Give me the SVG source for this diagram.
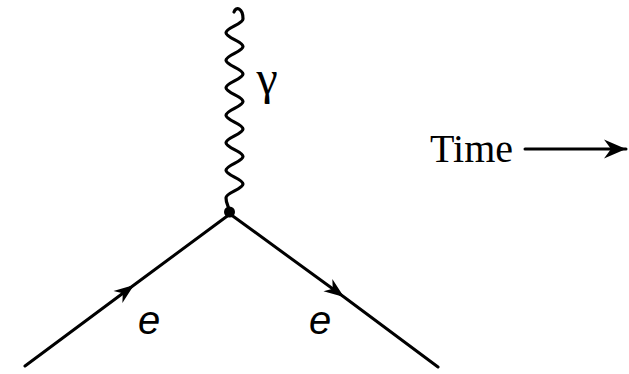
<svg xmlns="http://www.w3.org/2000/svg" width="629" height="374" viewBox="0 0 629 374">
  <style>
    .line { fill: none; stroke: #000; stroke-width: 3; stroke-linecap: round; }
    .wave { fill: none; stroke: #000; stroke-width: 3.2; stroke-linecap: round; }
    .lbl { font-family: "Liberation Sans", Arial, sans-serif; font-style: italic; font-size: 40px; fill: #000; }
    .serif { font-family: "Liberation Serif", "Times New Roman", serif; fill: #000; }
  </style>
  <defs>
    <marker id="arr" markerUnits="userSpaceOnUse" markerWidth="26" markerHeight="20" viewBox="-22 -10 24 20" refX="0" refY="0" orient="auto">
      <path d="M0,0 L-20,-7.5 L-14,0 L-20,7.5 Z" fill="#000"/>
    </marker>
    <marker id="arrT" markerUnits="userSpaceOnUse" markerWidth="28" markerHeight="24" viewBox="-24 -12 26 24" refX="0" refY="0" orient="auto">
      <path d="M0,0 L-22,-9.5 L-15,0 L-22,9.5 Z" fill="#000"/>
    </marker>
  </defs>
  <rect width="629" height="374" fill="#fff"/>
  <g id="connectors">
    <path id="e-in" class="line" d="M25,366 L134,285 L230,214" marker-mid="url(#arr)"/>
    <path id="e-out" class="line" d="M230,214 L344,297 L438,367" marker-mid="url(#arr)"/>
    <path id="photon" class="wave" d="M234,12 C236,6 243,8 243,19 C243,24 226,27.75 226,32.75 C226,37.75 243,41.5 243,46.5 C243,51.5 226,55.25 226,60.25 C226,65.25 243,69 243,74 C243,79 226,82.75 226,87.75 C226,92.75 243,96.5 243,101.5 C243,106.5 226,110.25 226,115.25 C226,120.25 243,124 243,129 C243,134 226,137.75 226,142.75 C226,147.75 243,151.5 243,156.5 C243,161.5 226,165.25 226,170.25 C226,175.25 243,179 243,184 C243,189 226,192.75 226,197.75 C226,204 229,206 229,211"/>
  </g>
  <g id="vertex">
    <circle cx="229.5" cy="212" r="5.5" fill="#000"/>
  </g>
  <g id="label-e-in">
    <text class="lbl" x="149" y="334" text-anchor="middle">e</text>
  </g>
  <g id="label-e-out">
    <text class="lbl" x="320" y="334" text-anchor="middle">e</text>
  </g>
  <g id="label-gamma">
    <text class="serif" x="267" y="94" font-size="48" text-anchor="middle">γ</text>
  </g>
  <g id="time">
    <text class="serif" x="430" y="162" font-size="40">Time</text>
    <path class="line" d="M525,149 L626,149" marker-end="url(#arrT)"/>
  </g>
</svg>
